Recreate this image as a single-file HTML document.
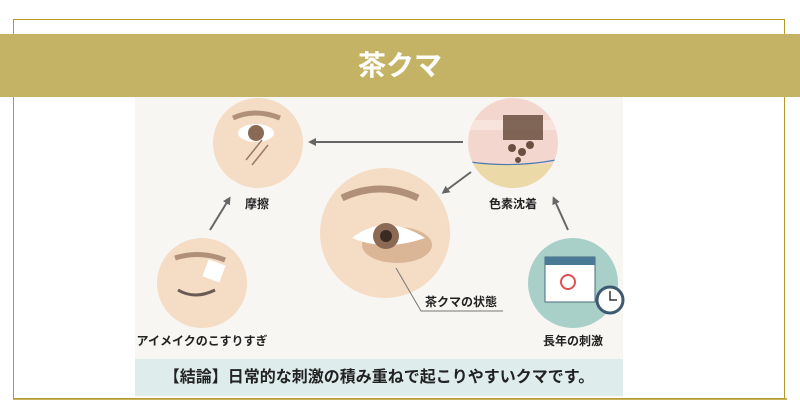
<!DOCTYPE html>
<html><head><meta charset="utf-8"><style>
body{margin:0;width:800px;height:420px;background:#fff;position:relative;overflow:hidden;font-family:"Liberation Sans","Noto Sans CJK JP",sans-serif}
.t{position:absolute;font-weight:bold;color:#222;font-size:12px;white-space:nowrap;transform:translateX(-50%)}
</style></head><body>
<div style="position:absolute;left:13px;top:19px;width:772px;height:380px;border:1.5px solid #b59a2a;box-sizing:border-box"></div>
<div style="position:absolute;left:135px;top:97px;width:488px;height:300px;background:#f8f6f2"></div>
<div style="position:absolute;left:0;top:34px;width:800px;height:63px;background:#c4b365"></div>
<div style="position:absolute;left:0;top:34px;width:800px;height:63px;line-height:63px;text-align:center;color:#fff;font-size:28px;font-weight:bold">茶クマ</div>
<svg style="position:absolute;left:0;top:0" width="800" height="420">
<defs><marker id="a" markerWidth="8" markerHeight="8" refX="5" refY="4" orient="auto" markerUnits="userSpaceOnUse"><path d="M0,0 L8,4 L0,8 Z" fill="#666"/></marker>
<clipPath id="c"><circle cx="513" cy="143" r="45"/></clipPath></defs>
<circle cx="258" cy="143" r="45" fill="#f5dcc4"/>
<path d="M233,118 Q255,108 280,118" stroke="#b09078" stroke-width="5" fill="none"/>
<ellipse cx="256" cy="133" rx="18" ry="9" fill="#fff"/><circle cx="256" cy="133" r="8" fill="#8a6a55"/>
<path d="M246,160 L262,140 M252,165 L268,145" stroke="#9a7a66" stroke-width="1.5"/>
<g clip-path="url(#c)">
<rect x="468" y="98" width="90" height="90" fill="#f3d7cf"/>
<rect x="468" y="120" width="90" height="10" fill="#f8e4dc"/>
<rect x="468" y="164" width="90" height="26" fill="#ecd9a8"/>
<path d="M470,162 Q513,168 556,160" stroke="#4a7ab0" stroke-width="1.2" fill="none"/>
<rect x="503" y="115" width="40" height="25" fill="#6a5040" opacity=".85"/>
<circle cx="512" cy="148" r="4" fill="#6a5040"/><circle cx="522" cy="152" r="4" fill="#6a5040"/><circle cx="530" cy="145" r="4" fill="#6a5040"/><circle cx="518" cy="160" r="3" fill="#6a5040"/>
</g>
<circle cx="385" cy="233" r="65" fill="#f5dcc4"/>
<path d="M342,198 Q380,180 418,198" stroke="#b09078" stroke-width="7" fill="none"/>
<ellipse cx="397" cy="245" rx="35" ry="18" fill="#c89b78" opacity=".6"/>
<path d="M352,238 Q385,212 425,238 Q385,252 352,238Z" fill="#fff"/>
<circle cx="386" cy="236" r="13" fill="#8a6a55"/><circle cx="386" cy="236" r="6" fill="#3a2a22"/>
<circle cx="202" cy="283" r="45" fill="#f5dcc4"/>
<path d="M175,258 Q200,250 225,260" stroke="#b09078" stroke-width="5" fill="none"/>
<path d="M178,290 Q195,300 215,290" stroke="#6a5a55" stroke-width="3" fill="none"/>
<rect x="205" y="262" width="18" height="18" fill="#fff" transform="rotate(20 214 271)"/>
<circle cx="573" cy="283" r="45" fill="#a9cfc9"/>
<rect x="545" y="257" width="50" height="45" fill="#fff" stroke="#4a6a80"/>
<rect x="545" y="257" width="50" height="8" fill="#4a7a95"/>
<circle cx="568" cy="282" r="7" fill="none" stroke="#e05050" stroke-width="2"/>
<circle cx="610" cy="300" r="13" fill="#fff" stroke="#3d5a70" stroke-width="3"/>
<path d="M610,291 V300 H617" stroke="#333" stroke-width="1.5" fill="none"/>
<line x1="463" y1="142" x2="311" y2="142" stroke="#666" stroke-width="2" marker-end="url(#a)"/>
<line x1="471" y1="172" x2="444" y2="192" stroke="#666" stroke-width="2" marker-end="url(#a)"/>
<line x1="210" y1="230" x2="229" y2="199" stroke="#666" stroke-width="2" marker-end="url(#a)"/>
<line x1="568" y1="230" x2="554" y2="199" stroke="#666" stroke-width="2" marker-end="url(#a)"/>
<polyline points="396,268 421,311 503,311" stroke="#777" stroke-width="1" fill="none"/>
<line x1="13" y1="399" x2="787" y2="399" stroke="#b59a2a" stroke-width="1.5"/>
</svg>
<div class="t" style="left:257px;top:195px">摩擦</div>
<div class="t" style="left:513px;top:195px">色素沈着</div>
<div class="t" style="left:202px;top:332px">アイメイクのこすりすぎ</div>
<div class="t" style="left:573px;top:332px">長年の刺激</div>
<div class="t" style="left:461px;top:293px">茶クマの状態</div>
<div style="position:absolute;left:135px;top:359px;width:488px;height:37px;background:#dfecec;line-height:37px;text-align:center;font-weight:bold;font-size:16px;color:#222">【結論】日常的な刺激の積み重ねで起こりやすいクマです。</div>
</body></html>
